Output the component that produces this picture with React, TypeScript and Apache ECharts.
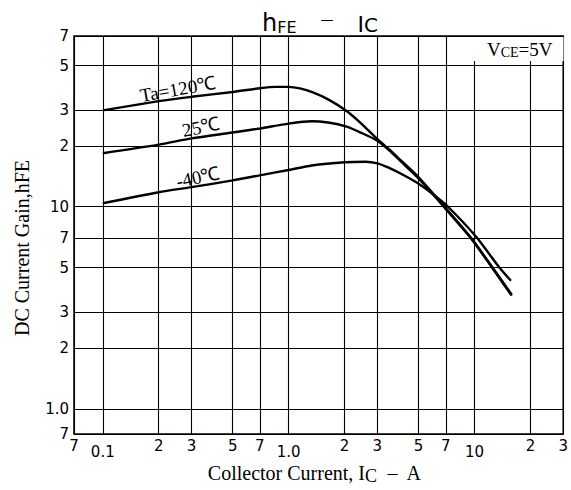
import React, { useEffect, useRef } from 'react';
import * as echarts from 'echarts';

// Grid / tick values (real units)
const xGridValues = [0.07, 0.1, 0.2, 0.3, 0.5, 0.7, 1, 2, 3, 5, 7, 10, 20, 30];
const xMinorLabelValues = [0.07, 0.2, 0.3, 0.5, 0.7, 2, 3, 5, 7, 20, 30];
const xMinorLabels = ['7', '2', '3', '5', '7', '2', '3', '5', '7', '2', '3'];
const xDecadeLabelValues = [0.1, 1, 10];
const xDecadeLabels = ['0.1', '1.0', '10'];
const yGridValues = [0.75, 1, 2, 3, 5, 7, 10, 20, 30, 50, 70];
const yTickLabels = ['7', '1.0', '2', '3', '5', '7', '10', '2', '3', '5', '7'];

const seriesNames = ['Ta=120℃', '25℃', '-40℃'];

// Ta = 120 °C
const ic120 = [0.1, 0.2, 0.3, 0.5, 0.7, 0.85, 1.0, 1.15, 1.35, 1.63, 2.05, 2.46, 3.0, 3.5, 4.0, 5.0, 6.9, 9.6, 12.5, 15.85];
const hfe120 = [30, 33.3, 35, 37, 38.6, 39.2, 39.2, 38.5, 36.8, 34, 29.8, 25.8, 21.6, 19.1, 17.0, 14, 10, 7, 5, 3.67];
// Ta = 25 °C
const ic25 = [0.1, 0.2, 0.3, 0.5, 0.7, 1.0, 1.33, 1.63, 2.05, 2.46, 3.0, 3.5, 4.0, 5.0, 6.9, 9.6, 12.5, 15.85];
const hfe25 = [18.4, 20.3, 21.8, 23.3, 24.4, 25.8, 26.5, 26.1, 24.9, 23.2, 21.2, 18.9, 16.8, 13.8, 9.9, 6.95, 4.95, 3.63];
// Ta = -40 °C
const icM40 = [0.1, 0.2, 0.3, 0.5, 0.7, 1.0, 1.33, 2.0, 2.6, 3.0, 3.4, 4.0, 5.0, 6.0, 7.2, 10.2, 13.6, 15.7];
const hfeM40 = [10.4, 11.8, 12.5, 13.5, 14.3, 15.2, 16.0, 16.6, 16.7, 16.4, 15.7, 14.6, 13.0, 11.5, 10, 7.1, 5, 4.3];

const lg = (v: number) => Math.log10(v);

function nearestLabel(vals: number[], labels: string[]) {
  return (v: number) => {
    let best = 0;
    let bd = Infinity;
    vals.forEach((t, i) => {
      const d = Math.abs(lg(t) - v);
      if (d < bd) {
        bd = d;
        best = i;
      }
    });
    return labels[best];
  };
}

const pairs = (xs: number[], ys: number[]) => xs.map((x, i) => [lg(x), lg(ys[i])]);

export default function App() {
  const ref = useRef<HTMLDivElement>(null);

  useEffect(() => {
    if (!ref.current) return;
    const chart = echarts.init(ref.current, null, { renderer: 'svg' });
    const sans = 'DejaVu Sans';
    const serif = 'Liberation Serif';
    const tickLabelStyle = { color: '#000', fontFamily: sans, fontSize: 15 };
    const xMin = lg(0.07);
    const xMax = lg(30);

    const lineSeries = (name: string, xs: number[], ys: number[]) => ({
      type: 'line',
      name,
      data: pairs(xs, ys),
      smooth: 0.25,
      showSymbol: false,
      symbol: 'none',
      lineStyle: { color: '#000', width: 2.4 },
      z: 5,
    });

    const titleTok = (size: number, lh: number) => ({
      fontFamily: sans,
      fontSize: size,
      fontWeight: 'normal',
      color: '#000',
      verticalAlign: 'bottom',
      lineHeight: lh,
    });

    const tempLabel = (text: string, x: number, y: number, deg: number) => ({
      type: 'text',
      z: 51,
      x,
      y,
      rotation: (deg * Math.PI) / 180,
      style: {
        text,
        fontFamily: serif,
        fontSize: 19,
        fill: '#000',
        align: 'center',
        verticalAlign: 'middle',
      },
    });

    const option: any = {
      animation: false,
      backgroundColor: '#fff',
      title: {
        text: '{h|h}{s|FE}{d|—}{i|I}{c|C}',
        left: 257,
        top: 4,
        textStyle: {
          fontWeight: 'normal',
          rich: {
            h: titleTok(24, 26),
            s: titleTok(16, 21),
            d: { ...titleTok(13, 14), padding: [0, 24, 9, 24] },
            i: titleTok(22, 25),
            c: titleTok(20, 22),
          },
        },
      },
      grid: {
        left: 74,
        right: 6,
        top: 36,
        bottom: 53,
        show: true,
        borderColor: '#000',
        borderWidth: 1.5,
        backgroundColor: 'transparent',
        containLabel: false,
      },
      xAxis: [
        {
          type: 'value',
          min: xMin,
          max: xMax,
          position: 'bottom',
          name: '{n|Collector Current, I}{s|C}{n|  –  A}',
          nameLocation: 'middle',
          nameGap: 27,
          nameTextStyle: {
            padding: [0, 8, 0, 0],
            rich: {
              n: { fontFamily: serif, fontSize: 20, color: '#000' },
              s: { fontFamily: serif, fontSize: 18, color: '#000', padding: [6, 0, 0, 0] },
            },
          },
          axisLine: { show: false },
          axisTick: { show: false, customValues: xGridValues.map(lg) },
          axisLabel: {
            ...tickLabelStyle,
            customValues: xMinorLabelValues.map(lg),
            formatter: nearestLabel(xMinorLabelValues, xMinorLabels),
            margin: 4,
            showMinLabel: true,
            showMaxLabel: true,
          },
          splitLine: { show: true, lineStyle: { color: '#000', width: 1.1 } },
        },
        {
          type: 'value',
          min: xMin,
          max: xMax,
          position: 'bottom',
          axisLine: { show: false },
          axisTick: { show: false },
          splitLine: { show: false },
          axisLabel: {
            ...tickLabelStyle,
            customValues: xDecadeLabelValues.map(lg),
            formatter: nearestLabel(xDecadeLabelValues, xDecadeLabels),
            margin: 10,
          },
        },
      ],
      yAxis: {
        type: 'value',
        min: lg(0.75),
        max: lg(70),
        name: 'DC Current Gain,hFE',
        nameLocation: 'middle',
        nameGap: 42,
        nameTextStyle: { fontFamily: serif, fontSize: 20, color: '#000', padding: [0, 26, 0, 0] },
        axisLine: { show: false },
        axisTick: { show: false, customValues: yGridValues.map(lg) },
        axisLabel: {
          ...tickLabelStyle,
          customValues: yGridValues.map(lg),
          formatter: nearestLabel(yGridValues, yTickLabels),
          margin: 5,
          showMinLabel: true,
          showMaxLabel: true,
        },
        splitLine: { show: true, lineStyle: { color: '#000', width: 1.1 } },
      },
      graphic: [
        {
          type: 'rect',
          z: 50,
          shape: { x: 469, y: 37, width: 94.5, height: 24 },
          style: { fill: '#fff' },
        },
        {
          type: 'text',
          z: 51,
          x: 487,
          y: 40,
          style: {
            text: '{a|V}{b|CE}{a|=5V}',
            rich: {
              a: { fontFamily: serif, fontSize: 19, fill: '#000', verticalAlign: 'bottom', lineHeight: 19 },
              b: { fontFamily: serif, fontSize: 14, fill: '#000', verticalAlign: 'bottom', lineHeight: 16 },
            },
          },
        },
        tempLabel(seriesNames[0], 178, 89, 10),
        tempLabel(seriesNames[1], 201, 127, 11),
        tempLabel(seriesNames[2], 198, 177, 12),
      ],
      series: [
        lineSeries(seriesNames[0], ic120, hfe120),
        lineSeries(seriesNames[1], ic25, hfe25),
        lineSeries(seriesNames[2], icM40, hfeM40),
      ],
    };

    chart.setOption(option);
    return () => {
      chart.dispose();
    };
  }, []);

  return (
    <div
      ref={ref}
      style={{ position: 'fixed', left: 0, top: 0, width: 571, height: 490, background: '#fff' }}
    />
  );
}
